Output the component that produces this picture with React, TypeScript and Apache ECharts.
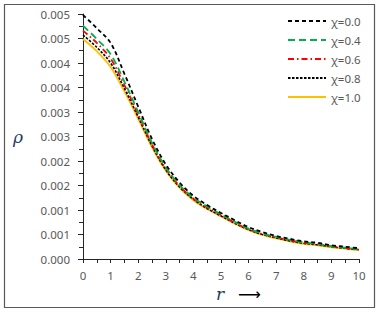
import React, { useEffect, useRef } from "react";
import * as echarts from "echarts";

const rValues = [0, 0.5, 1, 1.5, 2, 2.5, 3, 3.5, 4, 4.5, 5, 5.5, 6, 6.5, 7, 7.5, 8, 8.5, 9, 9.5, 10];

const chi00 = [0.00498, 0.00471, 0.00441, 0.00378, 0.00311, 0.00245, 0.00193, 0.00156, 0.00129, 0.0011, 0.00094, 0.00079, 0.00065, 0.00055, 0.00047, 0.00041, 0.00036, 0.00033, 0.00028, 0.00025, 0.00022];
const chi04 = [0.00476, 0.00449, 0.00418, 0.00362, 0.003, 0.00237, 0.00187, 0.00151, 0.00125, 0.00107, 0.00091, 0.00076, 0.00062, 0.00052, 0.00045, 0.00039, 0.00034, 0.00031, 0.00026, 0.00023, 0.0002];
const chi06 = [0.00466, 0.00441, 0.00409, 0.00355, 0.00295, 0.00234, 0.00185, 0.00149, 0.00123, 0.00105, 0.0009, 0.00074, 0.00061, 0.00051, 0.00044, 0.00038, 0.00033, 0.0003, 0.00026, 0.00022, 0.00019];
const chi08 = [0.00457, 0.00432, 0.004, 0.00348, 0.0029, 0.00231, 0.00182, 0.00147, 0.00122, 0.00103, 0.00088, 0.00073, 0.0006, 0.0005, 0.00043, 0.00037, 0.00032, 0.00029, 0.00025, 0.00022, 0.00019];
const chi10 = [0.00449, 0.00424, 0.00392, 0.00342, 0.00286, 0.00228, 0.0018, 0.00145, 0.0012, 0.00102, 0.00087, 0.00072, 0.00059, 0.00049, 0.00042, 0.00036, 0.00031, 0.00028, 0.00024, 0.00021, 0.00018];

const seriesNames = ["χ=0.0", "χ=0.4", "χ=0.6", "χ=0.8", "χ=1.0"];
const yTickLabels = ["0.000", "0.001", "0.001", "0.002", "0.002", "0.003", "0.003", "0.004", "0.004", "0.005", "0.005"];
const xTickLabels = ["0", "1", "2", "3", "4", "5", "6", "7", "8", "9", "10"];

const pair = (ys: number[]) => rValues.map((r, i) => [r, ys[i]]);

export default function App() {
  const ref = useRef<HTMLDivElement>(null);
  useEffect(() => {
    document.body.style.margin = "0";
    const chart = echarts.init(ref.current!, null, { renderer: "svg" });
    const font = "Noto Sans";
    const styles = [
      { color: "#000000", type: [4, 3], width: 1.8 },
      { color: "#00b050", type: [7, 4], width: 1.8 },
      { color: "#ff0000", type: [6, 3, 1.5, 3], width: 1.8 },
      { color: "#000000", type: [2.5, 1.5], width: 1.6 },
      { color: "#ffc000", type: "solid", width: 1.8 },
    ];
    const datas = [chi00, chi04, chi06, chi08, chi10];
    chart.setOption({
      animation: false,
      backgroundColor: "#ffffff",
      grid: { left: 83, top: 14, right: 23, bottom: 55 },
      legend: {
        orient: "vertical",
        left: 282,
        top: 10,
        itemWidth: 38,
        itemHeight: 12,
        itemGap: 7,
        itemStyle: { opacity: 0 },
        textStyle: { fontFamily: font, fontSize: 11.5, color: "#595959" },
        data: seriesNames,
      },
      xAxis: {
        type: "value",
        min: 0,
        max: 10,
        interval: 1,
        axisLine: { show: true, lineStyle: { color: "#262626", width: 1 } },
        axisTick: { show: true, length: 4, lineStyle: { color: "#262626" } },
        minorTick: { show: true, splitNumber: 2, length: 4, lineStyle: { color: "#262626" } },
        splitLine: { show: false },
        axisLabel: {
          fontFamily: font,
          fontSize: 11.5,
          color: "#595959",
          margin: 10,
          formatter: (v: number) => xTickLabels[Math.round(v)] ?? "",
        },
      },
      yAxis: {
        type: "value",
        min: 0,
        max: 0.005,
        interval: 0.0005,
        axisLine: { show: true, lineStyle: { color: "#262626", width: 1 } },
        axisTick: { show: true, length: 5, lineStyle: { color: "#262626" } },
        minorTick: { show: true, splitNumber: 2, length: 4, lineStyle: { color: "#262626" } },
        splitLine: { show: false },
        axisLabel: {
          fontFamily: font,
          fontSize: 11.5,
          color: "#595959",
          margin: 13,
          formatter: (v: number) => yTickLabels[Math.round(v / 0.0005)] ?? "",
        },
      },
      series: seriesNames.map((name, i) => ({
        name,
        type: "line",
        data: pair(datas[i]),
        symbol: "none",
        smooth: 0.35,
        lineStyle: styles[i],
        itemStyle: { color: styles[i].color },
        z: 10 - i,
      })),
      graphic: [
        {
          type: "rect",
          shape: { x: 4.5, y: 4.5, width: 370, height: 303 },
          style: { fill: "none", stroke: "#595959", lineWidth: 1.2 },
          silent: true,
        },
        {
          type: "text",
          left: 13,
          top: 128,
          style: { text: "ρ", font: "italic 17px 'DejaVu Serif'", fill: "#1f3864" },
        },
        {
          type: "text",
          left: 216,
          top: 285,
          style: { text: "r", font: "italic 17px 'DejaVu Serif'", fill: "#1f3864" },
        },
        {
          type: "text",
          left: 238,
          top: 286,
          style: { text: "⟶", font: "16px 'DejaVu Sans'", fill: "#000000" },
        },
      ],
    });
    return () => chart.dispose();
  }, []);
  return <div ref={ref} style={{ width: 382, height: 314 }} />;
}
